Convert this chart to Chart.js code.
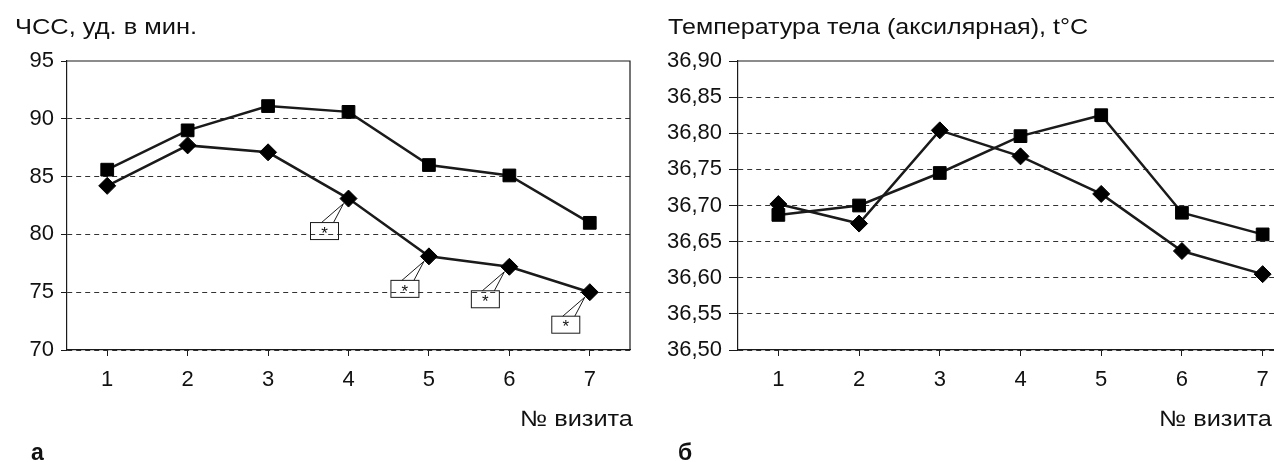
<!DOCTYPE html>
<html lang="ru">
<head>
<meta charset="utf-8">
<title>ЧСС и температура тела по визитам</title>
<script src="https://cdn.jsdelivr.net/npm/chart.js@4/dist/chart.umd.min.js"></script>
<style>
  html, body { margin: 0; padding: 0; background: #fff; }
  body {
    width: 1274px; height: 462px; overflow: hidden; position: relative;
    font-family: "Liberation Sans", Arial, sans-serif; color: #111;
  }
  .box { position: absolute; top: 0; height: 462px; }
  #boxHr { left: 0; width: 640px; }
  #boxTemp { left: 640px; width: 680px; }
  .lbl {
    position: absolute; font-size: 22px; line-height: 22px;
    white-space: nowrap; transform-origin: 0 0;
  }
  .panel { font-weight: bold; font-size: 23px; line-height: 23px; }
</style>
</head>
<body>
<div class="box" id="boxHr"><canvas id="hrChart" width="640" height="462"></canvas></div>
<div class="box" id="boxTemp"><canvas id="tempChart" width="680" height="462"></canvas></div>

<div class="lbl" data-w="182" style="left:15px;top:16px">ЧСС, уд. в мин.</div>
<div class="lbl" data-w="420" style="left:668px;top:16px">Температура тела (аксилярная), t°C</div>
<div class="lbl" data-w="113" style="left:520px;top:408px">№ визита</div>
<div class="lbl" data-w="113" style="left:1159px;top:408px">№ визита</div>
<div class="lbl panel" style="left:31px;top:441px">а</div>
<div class="lbl panel" style="left:678px;top:441px">б</div>

<script>
/* ── data ─────────────────────────────────────────────── */
const visits = ["1", "2", "3", "4", "5", "6", "7"];

// ЧСС, уд. в мин.
const hrSquares  = [85.6, 89.0, 91.1, 90.6, 86.0, 85.1, 81.0];
const hrDiamonds = [84.2, 87.7, 87.1, 83.1, 78.1, 77.2, 75.0];
const hrStarred  = [false, false, false, true, true, true, true];
const hrMin = 70, hrMax = 95, hrStep = 5;

// Температура тела, t°C
const tempSquares  = [36.687, 36.700, 36.745, 36.796, 36.825, 36.690, 36.660];
const tempDiamonds = [36.702, 36.675, 36.804, 36.768, 36.716, 36.637, 36.605];
const tempMin = 36.5, tempMax = 36.9, tempStep = 0.05;

/* ── shared look ──────────────────────────────────────── */
const INK = "#1a1a1a";
const FONT = "'Liberation Sans', Arial, sans-serif";
Chart.defaults.font.family = FONT;
Chart.defaults.color = "#111";

function series(data, style, radius) {
    return {
        data,
        borderColor: INK,
        borderWidth: 2.5,
        backgroundColor: INK,
        pointStyle: style,
        pointRadius: radius,
        pointHoverRadius: radius,
        pointBackgroundColor: "#000",
        pointBorderColor: "#000",
        pointBorderWidth: 1,
        tension: 0,
        fill: false
    };
}

// solid frame on top and right of the plot area
const framePlugin = {
    id: "frame",
    beforeDatasetsDraw(chart) {
        const { ctx, chartArea: a } = chart;
        ctx.save();
        ctx.strokeStyle = INK;
        ctx.lineWidth = 1.2;
        ctx.beginPath();
        ctx.moveTo(a.left, a.top);
        ctx.lineTo(a.right, a.top);
        ctx.lineTo(a.right, a.bottom);
        ctx.stroke();
        ctx.restore();
    }
};

// "*" callouts under the significant diamond points
const calloutPlugin = {
    id: "callout",
    beforeDatasetsDraw(chart) {
        const { ctx } = chart;
        const meta = chart.getDatasetMeta(1);
        ctx.save();
        ctx.strokeStyle = INK;
        ctx.lineWidth = 1;
        hrStarred.forEach((on, i) => {
            if (!on) return;
            const p = meta.data[i];
            const x0 = p.x - 38, y0 = p.y + 24, w = 28, h = 17;
            ctx.strokeRect(x0, y0, w, h);
            ctx.beginPath();
            ctx.moveTo(p.x - 27, y0);
            ctx.lineTo(p.x - 5, p.y + 5);
            ctx.lineTo(p.x - 15, y0);
            ctx.stroke();
            ctx.fillStyle = "#111";
            ctx.font = "17px " + FONT;
            ctx.textAlign = "center";
            ctx.textBaseline = "middle";
            ctx.fillText("*", x0 + w / 2, y0 + h / 2 + 3);
        });
        ctx.restore();
    }
};

function makeOptions(cfg) {
    return {
        responsive: false,
        animation: false,
        events: [],
        layout: { padding: { left: 0, right: cfg.padRight, top: 61, bottom: 0 } },
        plugins: { legend: { display: false }, tooltip: { enabled: false } },
        scales: {
            x: {
                type: "category",
                offset: true,
                grid: {
                    display: true, drawOnChartArea: false, drawTicks: true,
                    tickLength: 6, color: INK, tickColor: INK, lineWidth: 1
                },
                border: { display: true, color: INK, width: 1.2 },
                ticks: { font: { size: 22 }, padding: 11, maxRotation: 0 },
                afterFit(s) { s.height = 112; }
            },
            y: {
                min: cfg.min, max: cfg.max,
                grid: {
                    color: c => (c.tick && Math.abs(c.tick.value - cfg.max) < 1e-6) ? "rgba(0,0,0,0)" : "#333",
                    tickColor: INK, tickLength: cfg.tickLen, lineWidth: 1
                },
                border: { display: true, color: INK, width: 1.2, dash: [5, 4] },
                ticks: {
                    stepSize: cfg.step,
                    font: { size: 22 },
                    padding: cfg.pad,
                    callback: cfg.fmt
                },
                afterFit(s) { s.width = cfg.yWidth; }
            }
        }
    };
}

new Chart(document.getElementById("hrChart"), {
    type: "line",
    data: {
        labels: visits,
        datasets: [series(hrSquares, "rect", 9), series(hrDiamonds, "rectRot", 8.5)]
    },
    options: makeOptions({
        min: hrMin, max: hrMax, step: hrStep, yWidth: 67, padRight: 2,
        tickLen: 6, pad: 7, fmt: v => String(Math.round(v))
    }),
    plugins: [framePlugin, calloutPlugin]
});

new Chart(document.getElementById("tempChart"), {
    type: "line",
    data: {
        labels: visits,
        datasets: [series(tempSquares, "rect", 9), series(tempDiamonds, "rectRot", 8.5)]
    },
    options: makeOptions({
        min: tempMin, max: tempMax, step: tempStep, yWidth: 98, padRight: 17,
        tickLen: 9, pad: 7, fmt: v => v.toFixed(2).replace(".", ",")
    }),
    plugins: [framePlugin]
});

// stretch the captions to the widths of the printed figure
document.querySelectorAll(".lbl[data-w]").forEach(el => {
    const natural = el.getBoundingClientRect().width;
    el.style.transform = `scaleX(${(+el.dataset.w / natural).toFixed(3)})`;
});
</script>
</body>
</html>
